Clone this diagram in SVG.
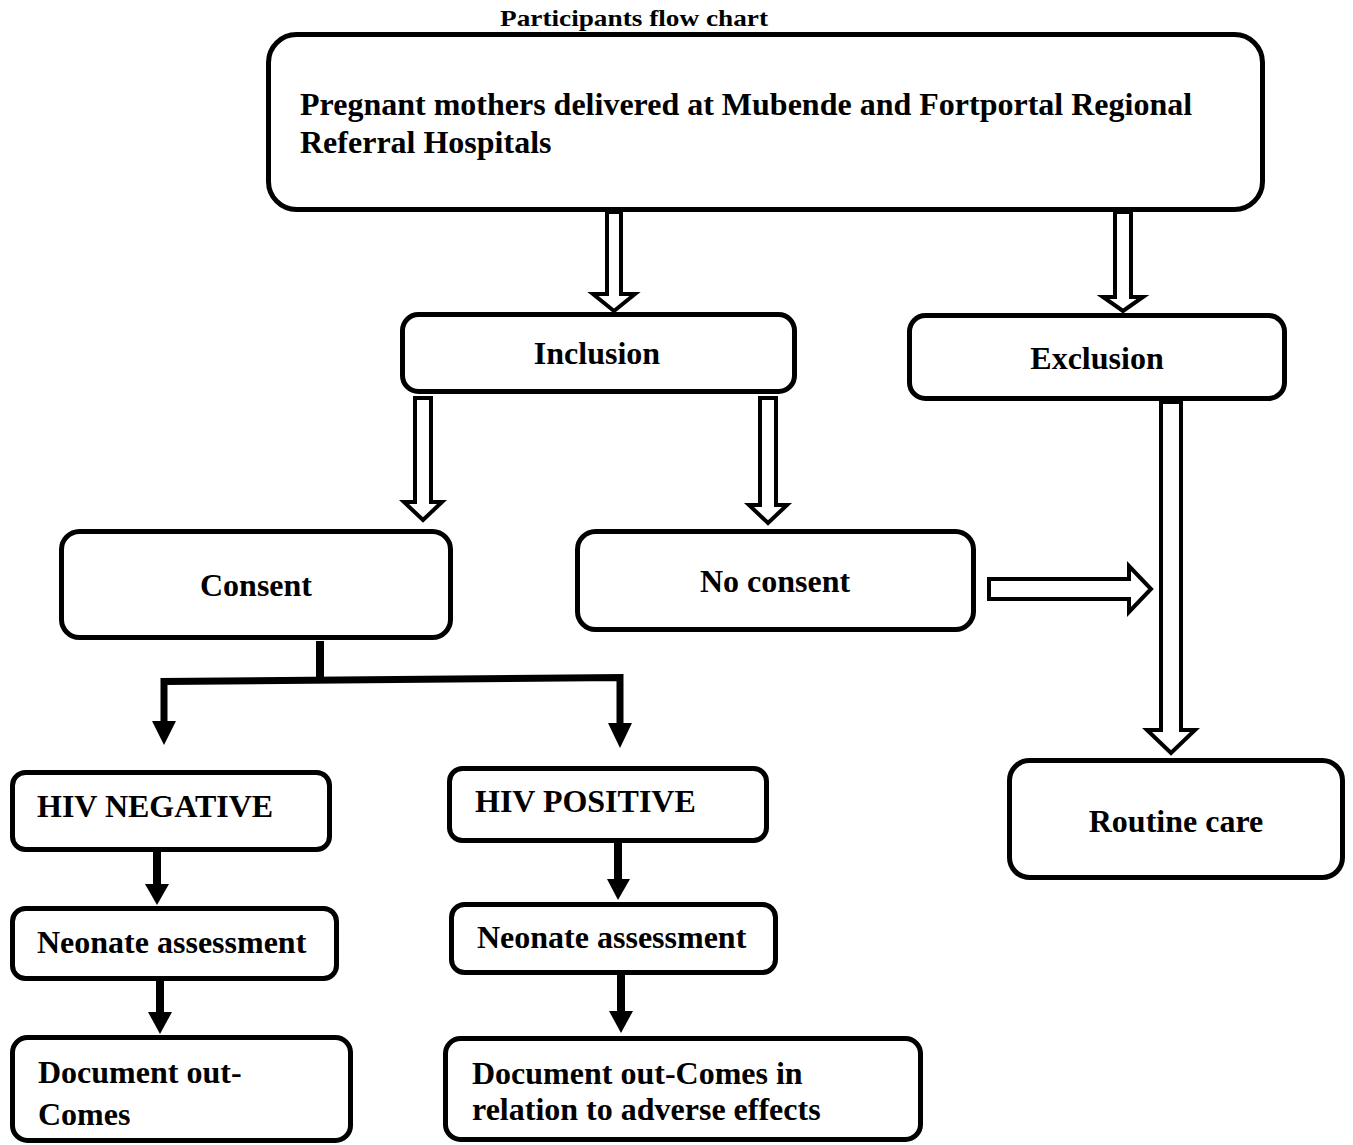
<svg xmlns="http://www.w3.org/2000/svg" width="1353" height="1145" viewBox="0 0 1353 1145">
<style>
  .box { fill: #ffffff; stroke: #000000; stroke-width: 5; }
  .t { font-family: "Liberation Serif", "Times New Roman", serif; font-weight: bold; font-size: 32px; fill: #000000; }
  .c { text-anchor: middle; }
  .hollow { fill: #ffffff; stroke: #000000; stroke-width: 4; stroke-linejoin: miter; }
  .solid { fill: none; stroke: #000000; stroke-width: 8; }
  .head { fill: #000000; stroke: none; }
</style>
<rect width="1353" height="1145" fill="#ffffff"/>
<text class="t c" x="634" y="26" font-size="24" style="font-size:24px" textLength="268" lengthAdjust="spacingAndGlyphs">Participants flow chart</text>

<g id="connectors">
  <polygon class="hollow" points="607,212 621,212 621,294 635,294 614,311 593,294 607,294"/>
  <polygon class="hollow" points="1115,212 1131,212 1131,297 1143,297 1123,311 1103,297 1115,297"/>
  <polygon class="hollow" points="415,398 431,398 431,502 442,502 423,520 404,502 415,502"/>
  <polygon class="hollow" points="760,398 776,398 776,505 787,505 768,523 749,505 760,505"/>
  <polygon class="hollow" points="989,579 1129,579 1129,566 1151,589 1129,612 1129,599 989,599"/>
  <polygon class="hollow" points="1161,402 1181,402 1181,730 1195,730 1171,753 1147,730 1161,730"/>

  <line class="solid" x1="320" y1="641" x2="320" y2="681"/>
  <path class="solid" style="stroke-width:7" d="M164,722 V681.5 L620,677.5 V724"/>
  <polygon class="head" points="152,721 176,721 164,745"/>
  <polygon class="head" points="608,723 632,723 620,748"/>

  <line class="solid" x1="157" y1="852" x2="157" y2="886"/>
  <polygon class="head" points="145,884 169,884 157,905"/>
  <line class="solid" x1="160" y1="981" x2="160" y2="1014"/>
  <polygon class="head" points="148,1012 172,1012 160,1034"/>
  <line class="solid" x1="618" y1="843" x2="618" y2="881"/>
  <polygon class="head" points="607,879 630,879 618,900"/>
  <line class="solid" x1="621" y1="975" x2="621" y2="1013"/>
  <polygon class="head" points="609,1011 633,1011 621,1033"/>
</g>

<g id="node-mothers">
  <rect class="box" x="268.5" y="34.5" width="994" height="175" rx="28"/>
  <text class="t" x="300" y="115">Pregnant mothers delivered at Mubende and Fortportal Regional</text>
  <text class="t" x="300" y="153">Referral Hospitals</text>
</g>
<g id="node-inclusion">
  <rect class="box" x="402.5" y="314.5" width="392" height="77" rx="16"/>
  <text class="t c" x="597" y="364">Inclusion</text>
</g>
<g id="node-exclusion">
  <rect class="box" x="909.5" y="315.5" width="375" height="83" rx="16"/>
  <text class="t c" x="1097" y="369">Exclusion</text>
</g>
<g id="node-consent">
  <rect class="box" x="61.5" y="531.5" width="389" height="106" rx="18"/>
  <text class="t c" x="256" y="596">Consent</text>
</g>
<g id="node-noconsent">
  <rect class="box" x="577.5" y="531.5" width="396" height="98" rx="18"/>
  <text class="t c" x="775" y="592">No consent</text>
</g>
<g id="node-routine">
  <rect class="box" x="1009.5" y="760.5" width="333" height="117" rx="20"/>
  <text class="t c" x="1176" y="832">Routine care</text>
</g>
<g id="node-hivneg">
  <rect class="box" x="12.5" y="772.5" width="317" height="77" rx="13"/>
  <text class="t" x="37" y="817">HIV NEGATIVE</text>
</g>
<g id="node-hivpos">
  <rect class="box" x="449.5" y="768.5" width="317" height="72" rx="13"/>
  <text class="t" x="475" y="812">HIV POSITIVE</text>
</g>
<g id="node-neonate-neg">
  <rect class="box" x="12.5" y="908.5" width="324" height="70" rx="13"/>
  <text class="t" x="37" y="953">Neonate assessment</text>
</g>
<g id="node-neonate-pos">
  <rect class="box" x="451.5" y="904.5" width="324" height="68" rx="13"/>
  <text class="t" x="477" y="948">Neonate assessment</text>
</g>
<g id="node-doc-neg">
  <rect class="box" x="12.5" y="1037.5" width="338" height="103" rx="15"/>
  <text class="t" x="38" y="1083">Document out-</text>
  <text class="t" x="38" y="1125">Comes</text>
</g>
<g id="node-doc-pos">
  <rect class="box" x="445.5" y="1038.5" width="475" height="101" rx="15"/>
  <text class="t" x="472" y="1084">Document out-Comes in</text>
  <text class="t" x="472" y="1120">relation to adverse effects</text>
</g>
</svg>
